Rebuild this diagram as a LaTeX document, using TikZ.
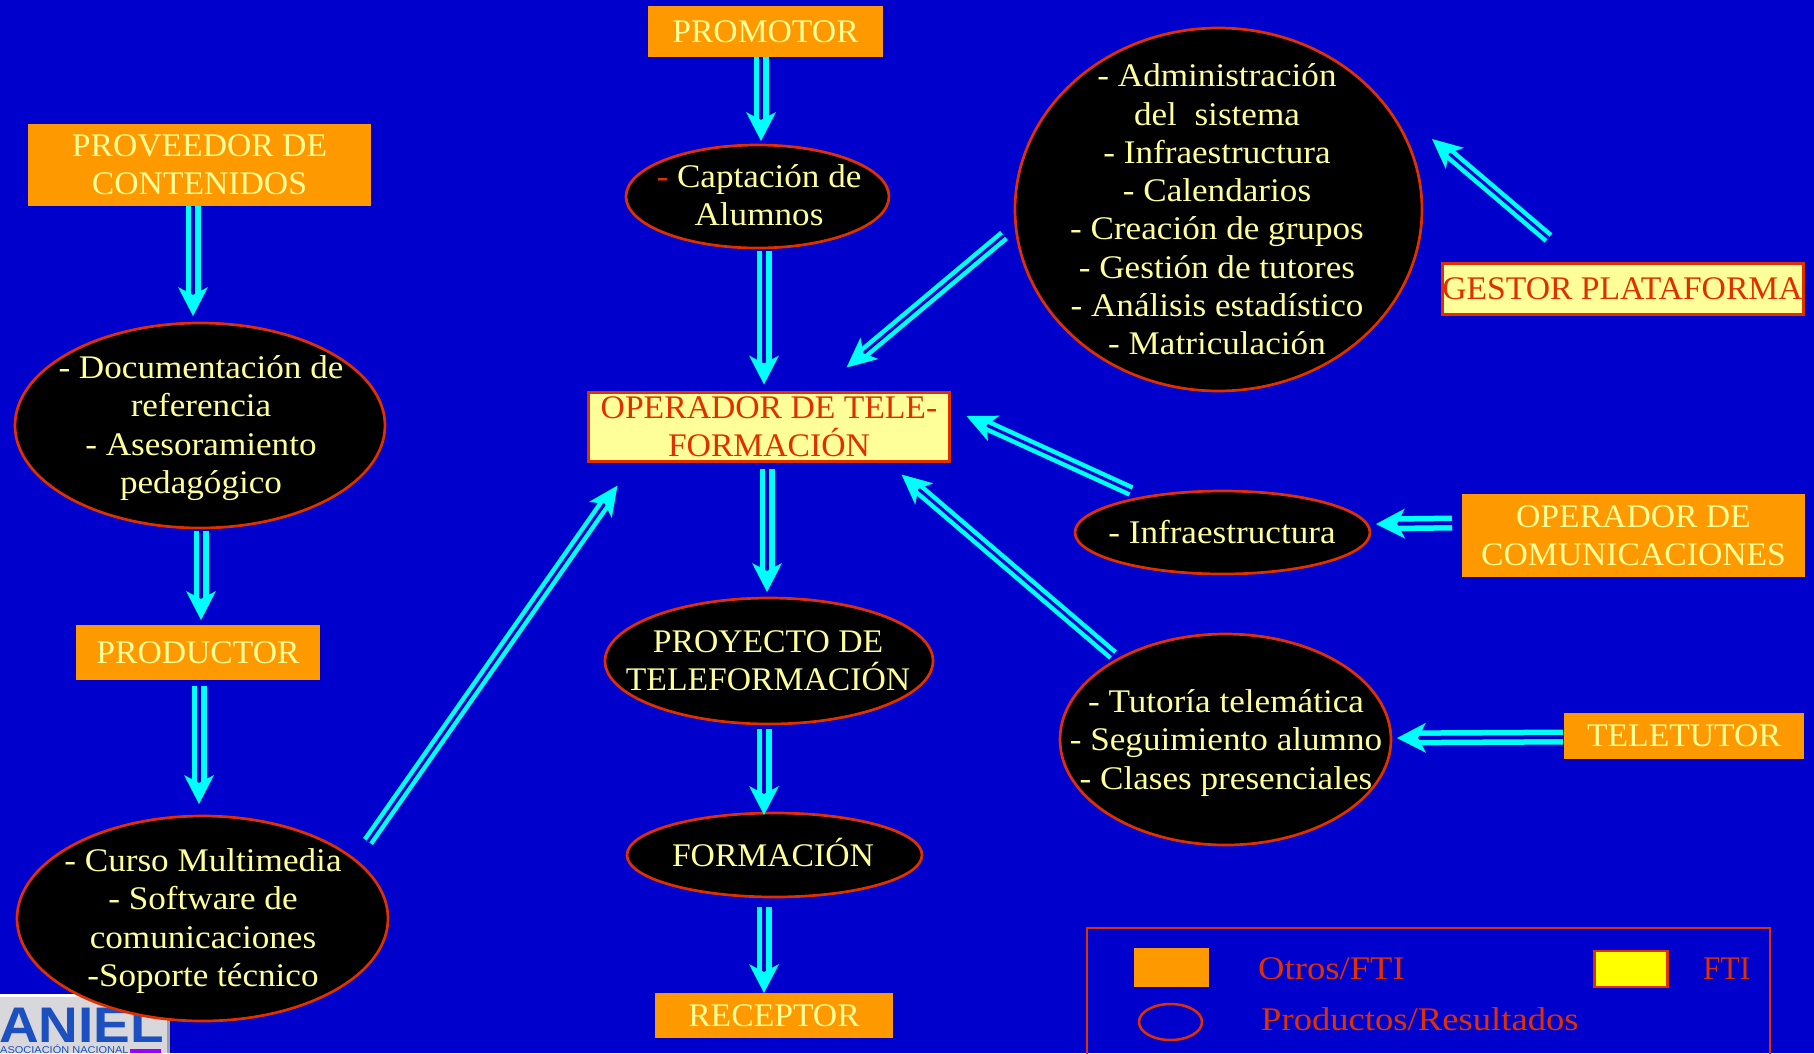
\documentclass[tikz,border=0pt]{standalone}
\usepackage{fontspec}
\usetikzlibrary{arrows.meta,shapes.geometric}
\setmainfont{Liberation Serif}[FakeStretch=1.065]
\newfontfamily\capsfont{Liberation Serif}[FakeStretch=1.02]
\newfontfamily\legendfont{Liberation Serif}[FakeStretch=1.11]
\newfontfamily\legendcapsfont{Liberation Serif}[FakeStretch=0.95]
\newfontfamily\logofont{Liberation Sans}[FakeStretch=1.1]
\newfontfamily\logosubfont{Liberation Sans}[FakeStretch=1.1]
\definecolor{bgblue}{HTML}{0000CC}
\definecolor{orangebox}{HTML}{FF9900}
\definecolor{paleyellow}{HTML}{FFFF99}
\definecolor{puryellow}{HTML}{FFFF00}
\definecolor{redline}{HTML}{E03000}
\definecolor{arrowcyan}{HTML}{00FFFF}
\definecolor{logoblue}{HTML}{1C50C0}
\definecolor{logopurple}{HTML}{9900FF}
\definecolor{logogray}{HTML}{D8D8DC}
\definecolor{logoedge}{HTML}{A0A0A0}
\tikzset{
  x=1pt,y=-1pt,
  body/.style={font=\fontsize{33}{38.3}\selectfont,align=center,inner sep=0pt,outer sep=0pt},
  caps/.style={font=\capsfont\fontsize{33}{38.3}\selectfont,align=center,inner sep=0pt,outer sep=0pt},
  lbl/.style={body,text=paleyellow},
  lblcaps/.style={caps,text=paleyellow},
  orangerect/.style={caps,text=paleyellow,rectangle,fill=orangebox},
  fti/.style={caps,text=redline,rectangle,fill=paleyellow,draw=redline,line width=3pt},
  oval/.style={ellipse,fill=black,draw=redline,line width=2.7pt,inner sep=0pt,outer sep=0pt},
  legendtext/.style={font=\legendfont\fontsize{33}{38.3}\selectfont,inner sep=0pt,text=redline,anchor=base west},
  legendcaps/.style={font=\legendcapsfont\fontsize{33}{38.3}\selectfont,inner sep=0pt,text=redline,anchor=base west},
  dbl/.style={draw=arrowcyan,line width=5.5pt,double=bgblue,double distance=4pt,
    -{Stealth[length=29pt,width=30pt,inset=8pt,line width=0pt]}},
  thin/.style={draw=arrowcyan,line width=4.5pt,double=bgblue,double distance=3pt,
    -{Stealth[length=30pt,width=28pt,inset=8pt,line width=0pt]}},
}
\begin{document}
\begin{tikzpicture}
\useasboundingbox (0,0) rectangle (1814,1053);
\clip (0,0) rectangle (1814,1053);
\fill[bgblue] (0,0) rectangle (1814,1053);
% logo
\fill[logoedge] (0,994) rectangle (170,1053);
\fill[white] (0,994) rectangle (167,997);
\fill[logogray] (0,997) rectangle (167,1053);
\node[inner sep=0pt,anchor=base west,text=logoblue,font=\logofont\bfseries\fontsize{50}{50}\selectfont] (logo) at (-1,1042) {ANIEL};
\node[inner sep=0pt,anchor=base west,text=logoblue,font=\logosubfont\fontsize{10}{10}\selectfont] (logosub) at (0,1053) {ASOCIACIÓN NACIONAL};
\fill[logopurple] (130,1049) rectangle (161,1053);
% boxes
\node[orangerect,minimum width=235pt,minimum height=51pt] (promotor) at (765.5,31.5) {PROMOTOR};
\node[orangerect,minimum width=343pt,minimum height=82pt] (prov) at (199.5,165) {PROVEEDOR DE\\ CONTENIDOS};
\node[orangerect,minimum width=244pt,minimum height=55pt] (prod) at (198,652.5) {PRODUCTOR};
\node[orangerect,minimum width=238pt,minimum height=45pt] (rec) at (774,1015.5) {RECEPTOR};
\node[orangerect,minimum width=343pt,minimum height=83pt] (comm) at (1633.5,535.5) {OPERADOR DE\\ COMUNICACIONES};
\node[orangerect,minimum width=240pt,minimum height=46pt] (tele) at (1684,736) {TELETUTOR};
\node[fti,minimum width=361pt,minimum height=69pt] (oper) at (769,427) {OPERADOR DE TELE-\\ FORMACIÓN};
\node[fti,minimum width=361pt,minimum height=51pt] (gestor) at (1622.5,288.5) {GESTOR PLATAFORMA};
% ellipses
\node[oval,minimum width=263pt,minimum height=103pt] (capt) at (757.5,196.5) {};
\node[oval,minimum width=370pt,minimum height=205pt] (doc) at (200,425.5) {};
\node[oval,minimum width=371pt,minimum height=205pt] (curso) at (202.5,918.5) {};
\node[oval,minimum width=328pt,minimum height=126pt] (proy) at (769,661) {};
\node[oval,minimum width=295pt,minimum height=84pt] (form) at (774.5,855) {};
\node[oval,minimum width=407pt,minimum height=363pt] (admin) at (1218.5,209.5) {};
\node[oval,minimum width=295pt,minimum height=83pt] (infra) at (1222.5,532.5) {};
\node[oval,minimum width=331pt,minimum height=211pt] (tut) at (1225.5,739.5) {};
% ellipse texts
\node[lbl] (captT) at (759,195) {\textcolor{redline}{-} Captación de\\ Alumnos};
\node[lbl] (docT) at (201,428) {- Documentación de\\ referencia\\ - Asesoramiento\\ pedagógico};
\node[lbl] (cursoT) at (203,921) {- Curso Multimedia\\ - Software de\\ comunicaciones\\ -Soporte técnico};
\node[lblcaps] (proyT) at (768,661) {PROYECTO DE\\ TELEFORMACIÓN};
\node[lblcaps] (formT) at (773,852) {FORMACIÓN};
\node[lbl] (adminT) at (1217,209.5) {- Administración\\ del\ \ sistema\\ - Infraestructura\\ - Calendarios\\ - Creación de grupos\\ - Gestión de tutores\\ - Análisis estadístico\\ - Matriculación};
\node[lbl] (infraT) at (1222,532) {- Infraestructura};
\node[lbl] (tutT) at (1226,743) {- Tutoría telemática\\ - Seguimiento alumno\\ - Clases presenciales};
% connectors
\draw[dbl] ([shift={(-4.5,0)}]promotor.south) -- ([shift={(3.5,-4)}]capt.north);
\draw[dbl] ([shift={(-6.5,0)}]prov.south) -- ([shift={(-7,-7)}]doc.north);
\draw[dbl] ([shift={(1,3)}]doc.south) -- ([shift={(3,-5)}]prod.north);
\draw[dbl] ([shift={(1,6)}]prod.south) -- ([shift={(-3.5,-12)}]curso.north);
\draw[thin] ([shift={(-20,-77)}]curso.east) -- ([shift={(29,24)}]oper.south west);
\draw[dbl] ([shift={(6.5,3)}]capt.south) -- ([shift={(-5,-8)}]oper.north);
\draw[dbl] ([shift={(-2,7)}]oper.south) -- ([shift={(-2,-6)}]proy.north);
\draw[dbl] ([shift={(-5,5)}]proy.south) -- ([shift={(-10.5,2)}]form.north);
\draw[dbl] ([shift={(-10.5,10)}]form.south) -- ([shift={(-10,0)}]rec.north);
\draw[thin] ([shift={(-11,26)}]admin.west) -- ([shift={(-103,-25)}]oper.north east);
\draw[thin] ([shift={(-74,-25)}]gestor.north) -- ([shift={(10,-70.5)}]admin.east);
\draw[thin] ([shift={(-91.5,0)}]infra.north) -- ([shift={(17,-11)}]oper.east);
\draw[dbl] ([shift={(-10,-12.5)}]comm.west) -- ([shift={(6,-8.5)}]infra.east);
\draw[thin] ([shift={(-112.5,21)}]tut.north) -- ([shift={(-48,13)}]oper.south east);
\draw[dbl] ([shift={(-1,1)}]tele.west) -- ([shift={(6,-1.5)}]tut.east);
% legend
\draw[redline,line width=2.5pt] (1087,1075) -- (1087,928) -- (1770,928) -- (1770,1075);
\node[rectangle,fill=orangebox,minimum width=75pt,minimum height=39pt,inner sep=0pt] (swo) at (1171.5,967.5) {};
\node[rectangle,fill=puryellow,draw=redline,line width=2.5pt,minimum width=73pt,minimum height=36pt,inner sep=0pt] (swy) at (1631,969) {};
\node[ellipse,draw=redline,line width=2.5pt,minimum width=63pt,minimum height=36pt,inner sep=0pt] (swe) at (1170.5,1022) {};
\node[legendtext] (l1) at (1258,979) {Otros/FTI};
\node[legendcaps] (l2) at (1703,979) {FTI};
\node[legendtext] (l3) at (1261,1030) {Productos/Resultados};
\end{tikzpicture}
\end{document}
